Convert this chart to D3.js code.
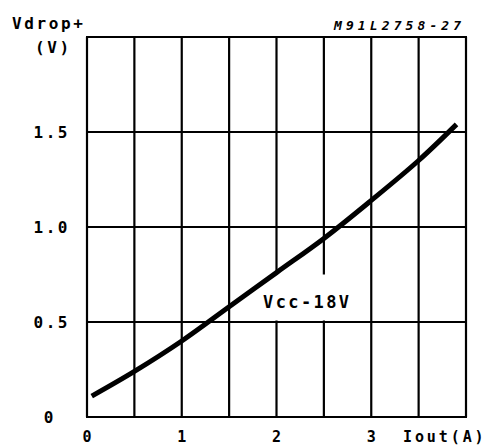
<!DOCTYPE html>
<html>
<head>
<meta charset="utf-8">
<script src="https://cdn.jsdelivr.net/npm/d3@7"></script>
<style>
  body { margin: 0; background: #fff; }
  text { font-family: "DejaVu Sans Mono", monospace; fill: #000; }
</style>
</head>
<body>
<svg id="chart" width="489" height="447"></svg>
<script>
// curve: output current (A) vs drop voltage (V)
const iout = [0.05, 0.5, 1.0, 1.5, 2.0, 2.5, 3.0, 3.5, 3.9];
const vdrop = [0.11, 0.24, 0.40, 0.58, 0.76, 0.94, 1.14, 1.35, 1.54];

const xGrid = [0, 0.5, 1, 1.5, 2, 2.5, 3, 3.5, 4];
const yGrid = [0, 0.5, 1, 1.5, 2];
const xTickVals = [0, 1, 2, 3];
const xTickLabels = ["0", "1", "2", "3"];
const yTickVals = [0, 0.5, 1, 1.5];
const yTickLabels = ["0", "0.5", "1.0", "1.5"];

const svg = d3.select("#chart");

const x = d3.scaleLinear().domain([0, 4]).range([87, 466]);
const y = d3.scaleLinear().domain([0, 2]).range([417, 37]);

// grid
svg.append("g").selectAll("line")
  .data(xGrid)
  .join("line")
  .attr("x1", d => x(d)).attr("x2", d => x(d))
  .attr("y1", y(0)).attr("y2", y(2))
  .attr("stroke", "#000").attr("stroke-width", 2.2);

svg.append("g").selectAll("line")
  .data(yGrid)
  .join("line")
  .attr("x1", x(0) - 1).attr("x2", x(4) + 1)
  .attr("y1", d => y(d)).attr("y2", d => y(d))
  .attr("stroke", "#000").attr("stroke-width", 2.2);

// white patch behind the curve label
svg.append("rect")
  .attr("x", 252).attr("y", y(0.75))
  .attr("width", 112).attr("height", y(0.5) - y(0.75) - 1.5)
  .attr("fill", "#fff");

// curve
const line = d3.line()
  .x((d, i) => x(iout[i]))
  .y(d => y(d))
  .curve(d3.curveCatmullRom);

svg.append("path")
  .attr("d", line(vdrop))
  .attr("fill", "none")
  .attr("stroke", "#000")
  .attr("stroke-width", 5);

svg.append("text")
  .attr("x", 263).attr("y", 308)
  .attr("font-size", 17).attr("font-weight", "bold")
  .attr("letter-spacing", 2.4)
  .text("Vcc-18V");

// tick labels
svg.append("g").selectAll("text")
  .data(yTickVals)
  .join("text")
  .attr("x", (d, i) => i == 0 ? 56 : 70)
  .attr("y", d => y(d) + 6)
  .attr("text-anchor", "end")
  .attr("font-size", 16).attr("font-weight", "bold")
  .attr("letter-spacing", 2.5)
  .text((d, i) => yTickLabels[i]);

svg.append("g").selectAll("text")
  .data(xTickVals)
  .join("text")
  .attr("x", d => x(d))
  .attr("y", 442)
  .attr("text-anchor", "middle")
  .attr("font-size", 15).attr("font-weight", "bold")
  .text((d, i) => xTickLabels[i]);

svg.append("text")
  .attr("x", 403).attr("y", 442)
  .attr("font-size", 15).attr("font-weight", "bold")
  .attr("letter-spacing", 2.9)
  .text("Iout(A)");

svg.append("text")
  .attr("x", 12).attr("y", 29)
  .attr("font-size", 16).attr("font-weight", "bold")
  .attr("letter-spacing", 2.6)
  .text("Vdrop+");

svg.append("text")
  .attr("x", 35).attr("y", 53)
  .attr("font-size", 16).attr("font-weight", "bold")
  .attr("letter-spacing", 2.6)
  .text("(V)");

svg.append("text")
  .attr("x", 334).attr("y", 30)
  .attr("font-size", 13).attr("font-weight", "bold").attr("font-style", "italic")
  .attr("letter-spacing", 4.1)
  .text("M91L2758-27");
</script>
</body>
</html>
